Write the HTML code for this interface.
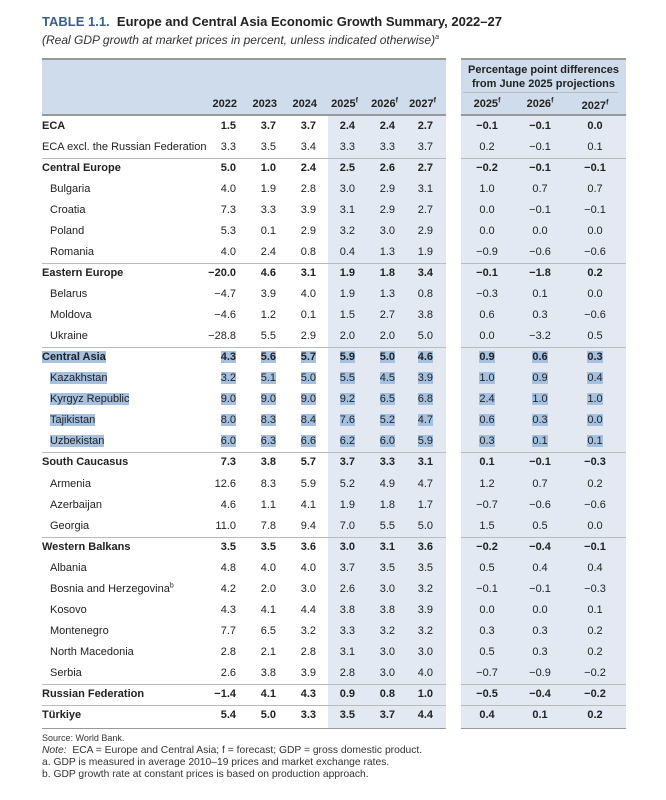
<!DOCTYPE html><html><head><style>
body{margin:0;width:666px;height:800px;background:#fff;font-family:"Liberation Sans",sans-serif;color:#222;position:relative;overflow:hidden}
.a{position:absolute}
.title{left:42px;top:14px;font-size:13px;font-weight:bold;color:#222;white-space:nowrap}
.title span{color:#3a5f8f}
.sub{left:42px;top:33px;font-size:12px;font-style:italic;color:#333;white-space:nowrap}
.band{background:#e2e9f3}
.hd{background:#cfdcec}
.row{position:absolute;left:0;width:666px;height:21px;font-size:11px;line-height:21px}
.row div{position:absolute;top:0}
.b{font-weight:bold}
.n{text-align:right;width:40px}
.c{text-align:center;width:50px}
.hl{background:#a6c1e0}
.line{position:absolute;height:1px;background:#bbb}
.foot{left:42px;font-size:10.3px;color:#333;white-space:nowrap}
sup{font-size:7px;line-height:0}
</style></head><body>
<div class="a title"><span>TABLE 1.1.</span>&nbsp; Europe and Central Asia Economic Growth Summary, 2022–27</div>
<div class="a sub">(Real GDP growth at market prices in percent, unless indicated otherwise)<sup>a</sup></div>
<div class="a hd" style="left:42px;top:58px;width:404px;height:57px"></div>
<div class="a hd" style="left:461px;top:58px;width:165px;height:57px"></div>
<div class="a band" style="left:328px;top:115px;width:118px;height:614px"></div>
<div class="a band" style="left:461px;top:115px;width:165px;height:614px"></div>
<div class="line" style="left:42px;top:58px;width:404px;background:#999;height:2px"></div>
<div class="line" style="left:461px;top:58px;width:165px;background:#999;height:2px"></div>
<div class="line" style="left:42px;top:114px;width:404px;background:#999;height:2px"></div>
<div class="line" style="left:461px;top:114px;width:165px;background:#999;height:2px"></div>
<div class="line" style="left:463px;top:92px;width:155px;background:#bbb"></div>
<div class="a b" style="left:461px;top:63px;width:165px;text-align:center;font-size:11px;line-height:14px">Percentage point differences<br>from June 2025 projections</div>
<div class="row b" style="top:94px">
<div class="n" style="left:197px">2022</div><div class="n" style="left:237px">2023</div><div class="n" style="left:277px">2024</div>
<div class="n" style="left:318px">2025<sup>f</sup></div><div class="n" style="left:358px">2026<sup>f</sup></div><div class="n" style="left:396px">2027<sup>f</sup></div>
<div class="c" style="left:462px">2025<sup>f</sup></div><div class="c" style="left:515px">2026<sup>f</sup></div><div class="c" style="left:570px;top:2px">2027<sup>f</sup></div>
</div>
<div id="rows"></div>
<div class="a foot" style="top:733px;font-size:9px">Source: World Bank.</div>
<div class="a foot" style="top:745px"><i>Note:</i>&nbsp; ECA = Europe and Central Asia; f = forecast; GDP = gross domestic product.</div>
<div class="a foot" style="top:757px">a. GDP is measured in average 2010–19 prices and market exchange rates.</div>
<div class="a foot" style="top:769px">b. GDP growth rate at constant prices is based on production approach.</div>
<script>
const R=[
["ECA",1,0,0,"1.5 3.7 3.7 2.4 2.4 2.7 −0.1 −0.1 0.0"],
["ECA excl. the Russian Federation",0,0,0,"3.3 3.5 3.4 3.3 3.3 3.7 0.2 −0.1 0.1"],
["Central Europe",1,0,0,"5.0 1.0 2.4 2.5 2.6 2.7 −0.2 −0.1 −0.1"],
["Bulgaria",0,1,0,"4.0 1.9 2.8 3.0 2.9 3.1 1.0 0.7 0.7"],
["Croatia",0,1,0,"7.3 3.3 3.9 3.1 2.9 2.7 0.0 −0.1 −0.1"],
["Poland",0,1,0,"5.3 0.1 2.9 3.2 3.0 2.9 0.0 0.0 0.0"],
["Romania",0,1,0,"4.0 2.4 0.8 0.4 1.3 1.9 −0.9 −0.6 −0.6"],
["Eastern Europe",1,0,0,"−20.0 4.6 3.1 1.9 1.8 3.4 −0.1 −1.8 0.2"],
["Belarus",0,1,0,"−4.7 3.9 4.0 1.9 1.3 0.8 −0.3 0.1 0.0"],
["Moldova",0,1,0,"−4.6 1.2 0.1 1.5 2.7 3.8 0.6 0.3 −0.6"],
["Ukraine",0,1,0,"−28.8 5.5 2.9 2.0 2.0 5.0 0.0 −3.2 0.5"],
["Central Asia",1,0,1,"4.3 5.6 5.7 5.9 5.0 4.6 0.9 0.6 0.3"],
["Kazakhstan",0,1,1,"3.2 5.1 5.0 5.5 4.5 3.9 1.0 0.9 0.4"],
["Kyrgyz Republic",0,1,1,"9.0 9.0 9.0 9.2 6.5 6.8 2.4 1.0 1.0"],
["Tajikistan",0,1,1,"8.0 8.3 8.4 7.6 5.2 4.7 0.6 0.3 0.0"],
["Uzbekistan",0,1,1,"6.0 6.3 6.6 6.2 6.0 5.9 0.3 0.1 0.1"],
["South Caucasus",1,0,0,"7.3 3.8 5.7 3.7 3.3 3.1 0.1 −0.1 −0.3"],
["Armenia",0,1,0,"12.6 8.3 5.9 5.2 4.9 4.7 1.2 0.7 0.2"],
["Azerbaijan",0,1,0,"4.6 1.1 4.1 1.9 1.8 1.7 −0.7 −0.6 −0.6"],
["Georgia",0,1,0,"11.0 7.8 9.4 7.0 5.5 5.0 1.5 0.5 0.0"],
["Western Balkans",1,0,0,"3.5 3.5 3.6 3.0 3.1 3.6 −0.2 −0.4 −0.1"],
["Albania",0,1,0,"4.8 4.0 4.0 3.7 3.5 3.5 0.5 0.4 0.4"],
["Bosnia and Herzegovina<sup>b</sup>",0,1,0,"4.2 2.0 3.0 2.6 3.0 3.2 −0.1 −0.1 −0.3"],
["Kosovo",0,1,0,"4.3 4.1 4.4 3.8 3.8 3.9 0.0 0.0 0.1"],
["Montenegro",0,1,0,"7.7 6.5 3.2 3.3 3.2 3.2 0.3 0.3 0.2"],
["North Macedonia",0,1,0,"2.8 2.1 2.8 3.1 3.0 3.0 0.5 0.3 0.2"],
["Serbia",0,1,0,"2.6 3.8 3.9 2.8 3.0 4.0 −0.7 −0.9 −0.2"],
["Russian Federation",1,0,0,"−1.4 4.1 4.3 0.9 0.8 1.0 −0.5 −0.4 −0.2"],
["Türkiye",1,0,0,"5.4 5.0 3.3 3.5 3.7 4.4 0.4 0.1 0.2"]];
const nx=[196,236,276,315,355,393],cx=[462,515,570];
let h="";
R.forEach((r,i)=>{const t=116+i*21.03;
if(r[1]&&i>0){h+=`<div class="line" style="left:42px;top:${t}px;width:404px"></div><div class="line" style="left:461px;top:${t}px;width:165px"></div>`}
const v=r[4].split(" "),w=x=>r[3]?`<span class="hl">${x}</span>`:x;
h+=`<div class="row${r[1]?' b':''}" style="top:${t}px"><div style="left:${r[2]?50:42}px">${w(r[0])}</div>`;
v.forEach((x,j)=>{h+=j<6?`<div class="n" style="left:${nx[j]}px">${w(x)}</div>`:`<div class="c" style="left:${cx[j-6]}px">${w(x)}</div>`});
h+="</div>"});
h+=`<div class="line" style="left:42px;top:728px;width:404px;background:#999"></div><div class="line" style="left:461px;top:728px;width:165px;background:#999"></div>`;
document.getElementById("rows").innerHTML=h;
</script>
</body></html>
